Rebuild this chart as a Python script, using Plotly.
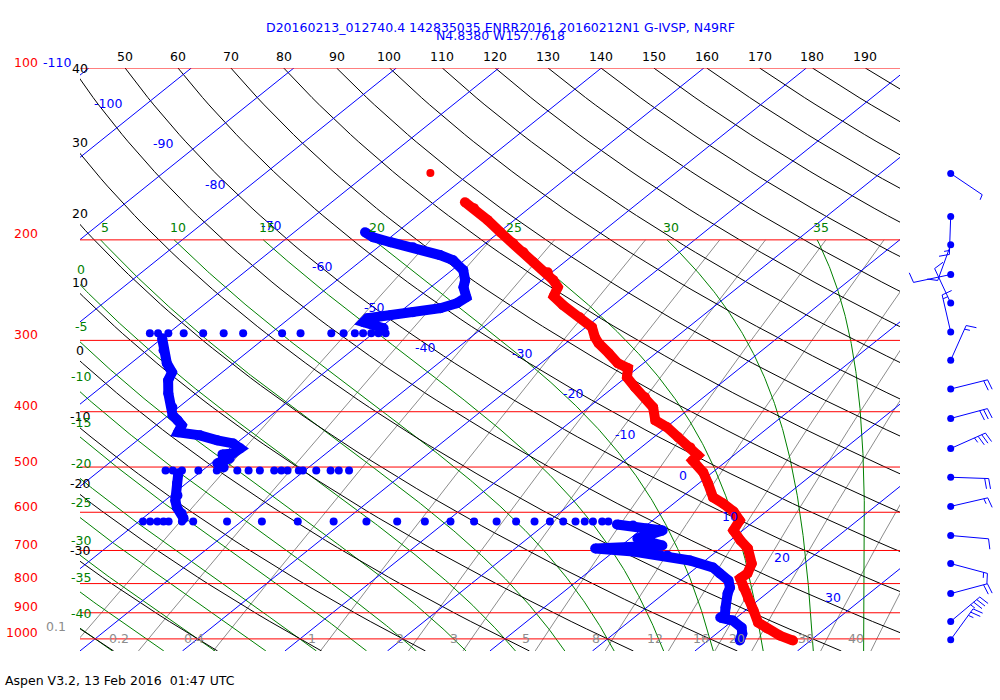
import numpy as np
import plotly.graph_objects as go

# ---------------- sounding data (pressure hPa, temperature degC) ----------------
temp_p = [171.8, 176.0, 184.7, 193.9, 202.7, 210.2, 218.9, 227.9, 235.3, 242.1, 251.1, 260.3,
          273.3, 284.5, 296.2, 303.5, 316.0, 329.0, 335.7, 348.2, 362.5, 377.4, 393.0, 414.2,
          426.0, 443.6, 461.9, 477.0, 486.8, 510.9, 534.1, 565.1, 579.0, 598.0, 620.2, 645.7,
          672.3, 694.3, 737.7, 768.1, 783.7, 812.8, 849.7, 891.8, 936.1, 959.0, 986.6, 1006.7]
temp_t = [-57.0, -55.4, -52.6, -49.9, -47.3, -45.2, -43.0, -40.4, -38.9, -37.6, -36.9, -34.9,
          -31.8, -29.4, -27.9, -26.8, -24.6, -22.5, -20.9, -19.9, -17.9, -15.7, -13.7, -11.9,
          -9.9, -7.6, -5.2, -3.5, -3.4, -0.9, 0.9, 3.1, 4.8, 6.8, 8.5, 9.1,
          11.0, 12.7, 14.9, 15.7, 15.6, 17.0, 18.8, 20.8, 22.7, 24.3, 26.4, 28.3]
temp_single_p = [152.8]
temp_single_t = [-63.9]

# dew point, continuous pieces
dew1_p = [193.9, 197.9, 201.9, 206.0, 212.7, 217.1, 226.0, 235.3, 242.1, 252.1, 258.2, 263.5,
          267.8, 271.1, 274.4, 278.8, 285.7]
dew1_t = [-63.1, -61.7, -59.4, -56.6, -53.0, -51.1, -48.9, -47.5, -46.8, -45.3, -45.5, -46.5,
          -48.7, -50.5, -52.4, -52.3, -49.6]
dew2_p = [297.4, 312.2, 329.0, 341.2, 352.4, 371.4, 393.0, 405.9, 414.2, 422.6, 434.7, 440.0,
          449.0, 454.5, 463.7, 473.2, 475.1, 482.9, 492.7, 500.7]
dew2_t = [-70.0, -68.4, -66.5, -64.9, -64.3, -62.7, -60.6, -59.6, -58.5, -57.5, -57.0, -54.5,
          -52.2, -50.3, -49.0, -49.1, -50.0, -48.8, -49.4, -48.3]
dew3_p = [512.9, 534.1, 560.6, 572.0, 588.4, 602.8, 615.1]
dew3_t = [-52.0, -50.9, -49.4, -49.0, -48.0, -46.8, -46.0]
dew4_p = [630.2, 632.8, 640.5, 645.7, 666.9, 686.0, 691.5, 694.3, 702.8, 714.2, 728.8, 749.7,
          768.1, 790.1, 812.8, 832.7, 881.1, 910.0, 917.4, 928.6, 955.2, 978.6, 1006.7]
dew4_t = [-3.0, -1.3, 0.4, 2.2, 0.7, 4.0, 1.1, -2.2, 1.9, 5.7, 8.5, 11.6,
          13.0, 14.7, 15.7, 16.2, 17.7, 18.6, 18.4, 20.0, 21.7, 22.5, 23.1]
# dew point, scattered rows of single samples
row1_p = 291.5
row1_t = [-71.8, -71.0, -70.0, -68.5, -66.6, -64.6, -62.7, -58.9, -57.1, -54.1, -52.9, -51.8,
          -51.0, -50.2, -49.5, -48.8]
row2_p = 506.8
row2_t = [-53.6, -52.9, -52.0, -50.4, -48.6, -46.6, -45.5, -44.4, -43.0, -42.3, -41.7, -40.6,
          -40.2, -38.9, -37.5, -36.7, -35.7]
row3_p = 622.6
row3_t = [-49.6, -48.9, -48.2, -47.6, -47.1, -45.8, -44.7, -41.4, -38.0, -34.5, -31.0, -27.8,
          -24.8, -22.1, -19.6, -17.3, -15.1, -13.2, -11.4, -9.9, -8.6, -7.4, -6.5, -5.7, -4.8, -4.2]

# winds (direction from, degrees; speed, knots)
wind_p = [153, 182, 204, 230, 258, 290, 325, 365, 411, 464, 521, 586, 659, 738, 833, 932, 1003]
wind_dir = [124, 182, 200, 258, 335, 347, 24, 76, 75, 66, 92, 77, 95, 105, 75, 50, 36]
wind_spd = [5, 15, 10, 10, 10, 15, 15, 20, 30, 35, 20, 15, 10, 15, 20, 35, 25]

# chart background lines
isobars = [100, 200, 300, 400, 500, 600, 700, 800, 900, 1000]
isotherms = list(range(-120, 60, 10))
isotherm_labels = [-100, -90, -80, -70, -60, -50, -40, -30, -20, -10, 0, 10, 20, 30]
dry_theta = list(range(-40, 210, 10))
dry_left_labels = [40, 30, 20, 10, 0, -10, -20, -30]
dry_top_labels = [50, 60, 70, 80, 90, 100, 110, 120, 130, 140, 150, 160, 170, 180, 190]
moist_thw = list(range(-40, 40, 5))
moist_top_labels = [5, 10, 15, 20, 25, 30, 35]
moist_left_labels = [0, -5, -10, -15, -20, -25, -30, -35, -40]
mix_ratios = [0.1, 0.2, 0.4, 1, 2, 3, 5, 8, 12, 16, 20, 30, 40]
mix_labels = ['0.1', '0.2', '0.4', '1', '2', '3', '5', '8', '12', '16', '20', '30', '40']

title1 = "D20160213_012740.4 142835035 ENRR2016, 20160212N1 G-IVSP, N49RF"
title2 = "N4.8380 W157.7618"
footer = "Aspen V3.2, 13 Feb 2016 \u00a001:47 UTC"

# ---------------- geometry ----------------
W, H = 1000, 700
T_PX, B_PX, L_PX, R_PX = 68, 651, 80, 900
P_TOP, P_BOT = 100.0, 1050.0
X0_PX, DEG_PX, SKEW = 505.0, 10.25, 30.14
XL = (L_PX - X0_PX) / DEG_PX
XR = (R_PX - X0_PX) / DEG_PX
S = (B_PX - T_PX) / np.log(P_BOT / P_TOP)
KAPPA = 0.2875

BLUE, RED, GREEN, GRAY = '#0000ff', '#ff0000', '#008000', '#8c8c8c'
FONT = "DejaVu Sans"


def skx(t, p):
    return np.asarray(t, dtype=float) + SKEW * np.log(1000.0 / np.asarray(p, dtype=float))


def paper_x(xval):
    return (X0_PX + DEG_PX * xval) / W


def p_of_px(py):
    return P_TOP * np.exp((py - T_PX) / S)


def paper_y(py):
    return (B_PX - py) / (B_PX - T_PX)


Rd, cpd, eps = 287.04, 1005.7, 0.622


def es(tc):
    return 6.112 * np.exp(17.67 * tc / (tc + 243.5))


def dT_dlnp(tk, p):
    tc = tk - 273.15
    lv = 2.501e6 - 2370.0 * tc
    e = es(tc)
    rs = eps * e / (p - e)
    return (Rd * tk + lv * rs) / (cpd + lv * lv * rs * eps / (Rd * tk * tk))


def moist_curve(thw):
    def integ(p_end, n):
        lnp = np.linspace(np.log(1000.0), np.log(p_end), n)
        tk = thw + 273.15
        out = [tk]
        for i in range(n - 1):
            h = lnp[i + 1] - lnp[i]
            p0, p1, p2 = np.exp(lnp[i]), np.exp(lnp[i] + h / 2), np.exp(lnp[i + 1])
            k1 = dT_dlnp(tk, p0)
            k2 = dT_dlnp(tk + h / 2 * k1, p1)
            k3 = dT_dlnp(tk + h / 2 * k2, p1)
            k4 = dT_dlnp(tk + h * k3, p2)
            tk = tk + h / 6 * (k1 + 2 * k2 + 2 * k3 + k4)
            out.append(tk)
        return np.exp(lnp), np.array(out) - 273.15
    pu, tu = integ(200.0, 240)
    pd, td = integ(P_BOT, 12)
    return np.concatenate([pd[::-1], pu[1:]]), np.concatenate([td[::-1], tu[1:]])


def td_from_w(w, p):
    e = w * p / (622.0 + w)
    a = np.log(e / 6.112)
    return 243.5 * a / (17.67 - a)


def dry_curve(theta, p):
    return (theta + 273.15) * (p / 1000.0) ** KAPPA - 273.15


fig = go.Figure()


def add_lines(curves, color, width=1, xaxis='x'):
    xs, ys = [], []
    for cx, cy in curves:
        xs += list(cx) + [None]
        ys += list(cy) + [None]
    fig.add_trace(go.Scatter(x=xs, y=ys, mode='lines', line=dict(color=color, width=width),
                             hoverinfo='skip', showlegend=False, xaxis=xaxis, yaxis='y'))


# mixing ratio lines
p_mix = np.geomspace(200, P_BOT, 40)
add_lines([(skx(td_from_w(w, p_mix), p_mix), p_mix) for w in mix_ratios], GRAY)

# moist adiabats
moist = {}
for thw in moist_thw:
    moist[thw] = moist_curve(thw)
add_lines([(skx(moist[t][1], moist[t][0]), moist[t][0]) for t in moist_thw], GREEN)

# dry adiabats
p_dry = np.geomspace(P_TOP, P_BOT, 80)
add_lines([(skx(dry_curve(th, p_dry), p_dry), p_dry) for th in dry_theta], 'black')

# isotherms
p_iso = np.array([P_TOP, P_BOT])
add_lines([(skx([t, t], p_iso), p_iso) for t in isotherms], BLUE)

# isobars
add_lines([([XL - 5, XR + 5], [p, p]) for p in isobars], RED)

# ---------------- sounding traces ----------------
fig.add_trace(go.Scatter(x=skx(temp_t, temp_p), y=temp_p, mode='lines+markers',
                         line=dict(color=RED, width=10), marker=dict(color=RED, size=10),
                         hoverinfo='skip', showlegend=False))
fig.add_trace(go.Scatter(x=skx(temp_single_t, temp_single_p), y=temp_single_p, mode='markers',
                         marker=dict(color=RED, size=8), hoverinfo='skip', showlegend=False))
for sp, st in [(dew1_p, dew1_t), (dew2_p, dew2_t), (dew3_p, dew3_t), (dew4_p, dew4_t)]:
    fig.add_trace(go.Scatter(x=skx(st, sp), y=sp, mode='lines+markers',
                             line=dict(color=BLUE, width=10), marker=dict(color=BLUE, size=10),
                             hoverinfo='skip', showlegend=False))
for rp, rt in [(row1_p, row1_t), (row2_p, row2_t), (row3_p, row3_t)]:
    pp = [rp] * len(rt)
    fig.add_trace(go.Scatter(x=skx(rt, pp), y=pp, mode='markers',
                             marker=dict(color=BLUE, size=8), hoverinfo='skip', showlegend=False))

# ---------------- wind barbs (second x axis, pixel units) ----------------
BX = 50.7
SHAFT, FULL, HALF, GAP = 38.0, 10.5, 5.5, 4.0
bx, by = [], []
for p, d, s in zip(wind_p, wind_dir, wind_spd):
    r = np.radians(d)
    u = np.array([np.sin(r), -np.cos(r)])
    rt = np.array([-u[1], u[0]])
    tilt = np.radians(12)
    fdir = np.cos(tilt) * rt + np.sin(tilt) * u
    tip = SHAFT * u
    segs = [(np.zeros(2), tip)]
    nfull, half = s // 10, (s % 10) >= 5
    for i in range(nfull):
        base = tip - i * GAP * u
        segs.append((base, base + FULL * fdir))
    if half:
        base = tip - nfull * GAP * u
        segs.append((base, base + HALF * fdir))
    for a, b in segs:
        bx += [BX + a[0], BX + b[0], None]
        by += [p * np.exp(a[1] / S), p * np.exp(b[1] / S), None]
fig.add_trace(go.Scatter(x=bx, y=by, mode='lines', line=dict(color=BLUE, width=1),
                         hoverinfo='skip', showlegend=False, xaxis='x2', yaxis='y'))
fig.add_trace(go.Scatter(x=[BX] * len(wind_p), y=wind_p, mode='markers',
                         marker=dict(color=BLUE, size=7), hoverinfo='skip', showlegend=False,
                         xaxis='x2', yaxis='y'))

# ---------------- labels ----------------
ann = []


def label(text, color, x, y, yref='y', xanchor='center', yanchor='middle',
          xshift=0, yshift=0, size=12.5):
    ann.append(dict(text=text, x=x, y=y, xref='paper', yref=yref, xanchor=xanchor,
                    yanchor=yanchor, xshift=xshift, yshift=yshift, showarrow=False,
                    font=dict(color=color, size=size, family=FONT)))


for p in isobars:
    label(str(p), RED, 0.040, np.log10(p), xanchor='right', yshift=6)
label('-110', BLUE, 0.041, np.log10(100), xanchor='left', yshift=6)

for t in isotherm_labels:
    py = 103 + 4.083 * (t + 100) if t <= -40 else 353 + 4.083 * (t + 30)
    p = p_of_px(py)
    label(str(t), BLUE, paper_x(float(skx(t, p))), np.log10(p), xanchor='right',
          xshift=-24 if t <= -80 else -20)

for th in dry_top_labels:
    label(str(th), 'black', paper_x(float(skx(dry_curve(th, P_TOP), P_TOP))),
          np.log10(P_TOP), yshift=12)
p_fine = np.geomspace(P_TOP, P_BOT, 800)
for th in dry_left_labels:
    xx = skx(dry_curve(th, p_fine), p_fine)
    pc = float(np.interp(XL, xx, p_fine))
    label(str(th), 'black', 0.080, np.log10(pc), yshift=11)

for thw in moist_top_labels:
    pm, tm = moist[thw]
    x200 = float(np.interp(np.log(200.0), np.log(pm[::-1]), skx(tm, pm)[::-1]))
    label(str(thw), GREEN, paper_x(x200), np.log10(200), xshift=4, yshift=12)
for thw in moist_left_labels:
    pm, tm = moist[thw]
    order = np.argsort(pm)
    xx = skx(tm, pm)[order]
    pc = float(np.interp(XL, xx, pm[order]))
    label(str(thw), GREEN, 0.081, np.log10(pc), yshift=15)

for w, txt in zip(mix_ratios, mix_labels):
    xw = float(skx(td_from_w(w, 1000.0), 1000.0))
    label(txt, GRAY, paper_x(xw), np.log10(1000), xanchor='right',
          xshift=-17 if 0.1 < w < 1 else -11,
          yshift=12 if xw < XL + 0.5 else 0)

label(title1, BLUE, 0.5, paper_y(27), yref='paper')
label(title2, BLUE, 0.5, paper_y(36), yref='paper')
label(footer, 'black', 0.003, paper_y(680), yref='paper', xanchor='left', size=12.5)

fig.update_layout(
    width=W, height=H,
    margin=dict(l=0, r=0, t=T_PX, b=H - B_PX, pad=0),
    paper_bgcolor='white', plot_bgcolor='white',
    hovermode=False, showlegend=False,
    font=dict(family=FONT, size=12.5),
    xaxis=dict(domain=[L_PX / W, R_PX / W], range=[XL, XR], visible=False, fixedrange=True),
    xaxis2=dict(domain=[R_PX / W, 1.0], range=[0, W - R_PX], anchor='y', visible=False,
                fixedrange=True),
    yaxis=dict(type='log', range=[np.log10(P_BOT), np.log10(P_TOP)], visible=False,
               fixedrange=True),
    annotations=ann,
)

fig.write_html("out.html", config={'displayModeBar': False},
               post_script="document.body.style.margin='0px';document.body.style.overflow='hidden';")
